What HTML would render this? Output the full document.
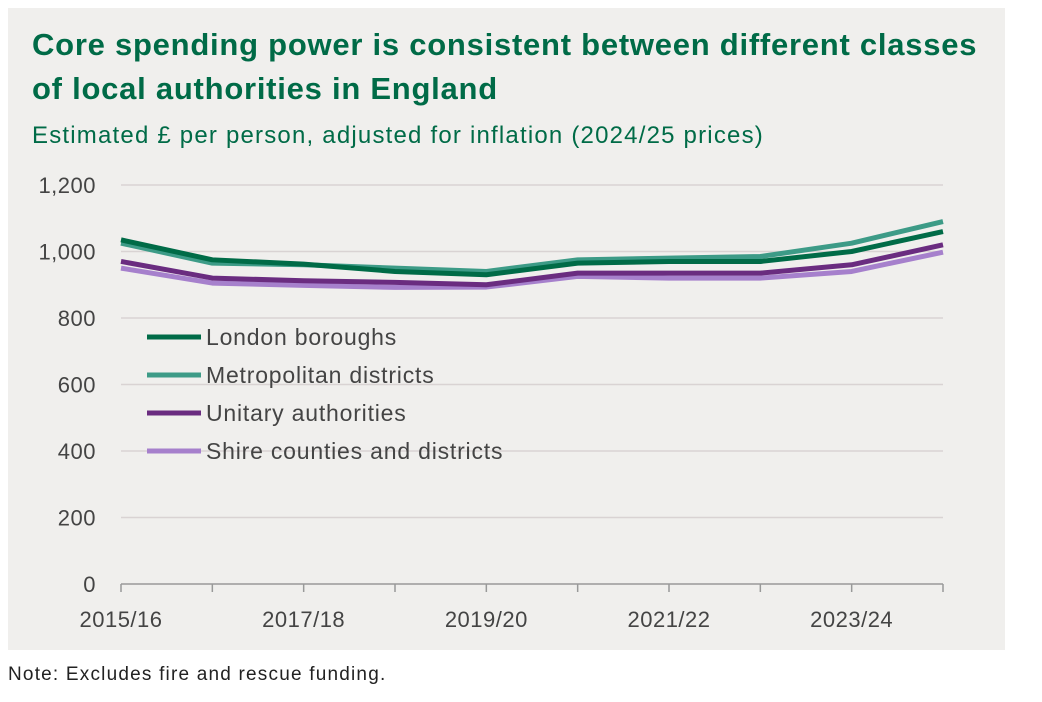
<!DOCTYPE html>
<html><head><meta charset="utf-8"><style>
body{margin:0;width:1042px;height:702px;background:#fff;font-family:"Liberation Sans",sans-serif;overflow:hidden;position:relative}
#panel{position:absolute;left:8px;top:8px;width:997px;height:642px;background:#f0efed}
.t{position:absolute;left:32px;color:#006b47;font-weight:bold;font-size:31px;letter-spacing:0.75px;white-space:nowrap}
#sub{position:absolute;left:32px;top:122px;color:#006b47;font-size:24px;letter-spacing:1.2px;white-space:nowrap}
#note{position:absolute;left:8px;top:664px;font-size:19px;color:#222;letter-spacing:1.2px}
svg{position:absolute;left:0;top:0}
</style></head><body>
<div id="panel"></div>
<div class="t" style="top:27px">Core spending power is consistent between different classes</div>
<div class="t" style="top:71px">of local authorities in England</div>
<div id="sub">Estimated £ per person, adjusted for inflation (2024/25 prices)</div>
<div id="note">Note: Excludes fire and rescue funding.</div>
<svg id="chart" width="1042" height="702"></svg>
<script>
const categories=["2015/16","2016/17","2017/18","2018/19","2019/20","2020/21","2021/22","2022/23","2023/24","2024/25"];
const xLabels=["2015/16","2017/18","2019/20","2021/22","2023/24"];
const yTicks=[0,200,400,600,800,1000,1200];
const seriesNames=["London boroughs","Metropolitan districts","Unitary authorities","Shire counties and districts"];
const london=[1035,975,962,940,930,965,970,970,1000,1060];
const metro=[1025,965,960,950,940,975,980,985,1025,1090];
const unitary=[970,920,912,907,900,935,935,935,960,1020];
const shire=[950,905,898,892,893,925,920,920,940,998];
const colors=["#006b47","#3d9b87","#6a2c80","#a680cc"];
const svg=document.getElementById('chart');
const NS="http://www.w3.org/2000/svg";
const x0=121,x1=943,y0=584,y1=185;
const xs=i=>x0+(x1-x0)*i/(categories.length-1);
const ys=v=>y0-(y0-y1)*v/1200;
function el(t,a){const e=document.createElementNS(NS,t);for(const k in a)e.setAttribute(k,a[k]);svg.appendChild(e);return e;}
yTicks.forEach(v=>{
  if(v>0){const g=el('line',{x1:x0,x2:x1,y1:ys(v),y2:ys(v),stroke:'#d9d3d3','stroke-width':1.5});
  
  }
  const t=el('text',{x:96,y:ys(v)+8,'text-anchor':'end','font-size':22,fill:'#444','font-family':'Liberation Sans','letter-spacing':0.5});
  t.textContent=v.toLocaleString('en-GB');
  
  
});
const ax=el('line',{x1:x0,x2:x1,y1:y0,y2:y0,stroke:'#999','stroke-width':1.5});


categories.forEach((c,i)=>{
  const tk=el('line',{x1:xs(i),x2:xs(i),y1:y0,y2:y0+8,stroke:'#999','stroke-width':1.5});
  
  
  if(xLabels.includes(c)){const t=el('text',{x:xs(i),y:627,'text-anchor':'middle','font-size':22,fill:'#444','font-family':'Liberation Sans','letter-spacing':0.5});
  t.textContent=c;
  
  }
});
[shire,unitary,metro,london].forEach((d,k)=>{
  const idx=3-k;
  const p=el('polyline',{points:d.map((v,i)=>xs(i)+','+ys(v)).join(' '),fill:'none',stroke:colors[idx],'stroke-width':5,'stroke-linejoin':'round'});
  
  
});
seriesNames.forEach((n,i)=>{
  const y=337+i*38;
  const l=el('line',{x1:147,x2:201,y1:y,y2:y,stroke:colors[i],'stroke-width':5});
  
  
  const t=el('text',{x:206,y:y+8,'font-size':23,fill:'#444','font-family':'Liberation Sans','letter-spacing':0.8});
  t.textContent=n;
  
  
});
</script>
</body></html>
